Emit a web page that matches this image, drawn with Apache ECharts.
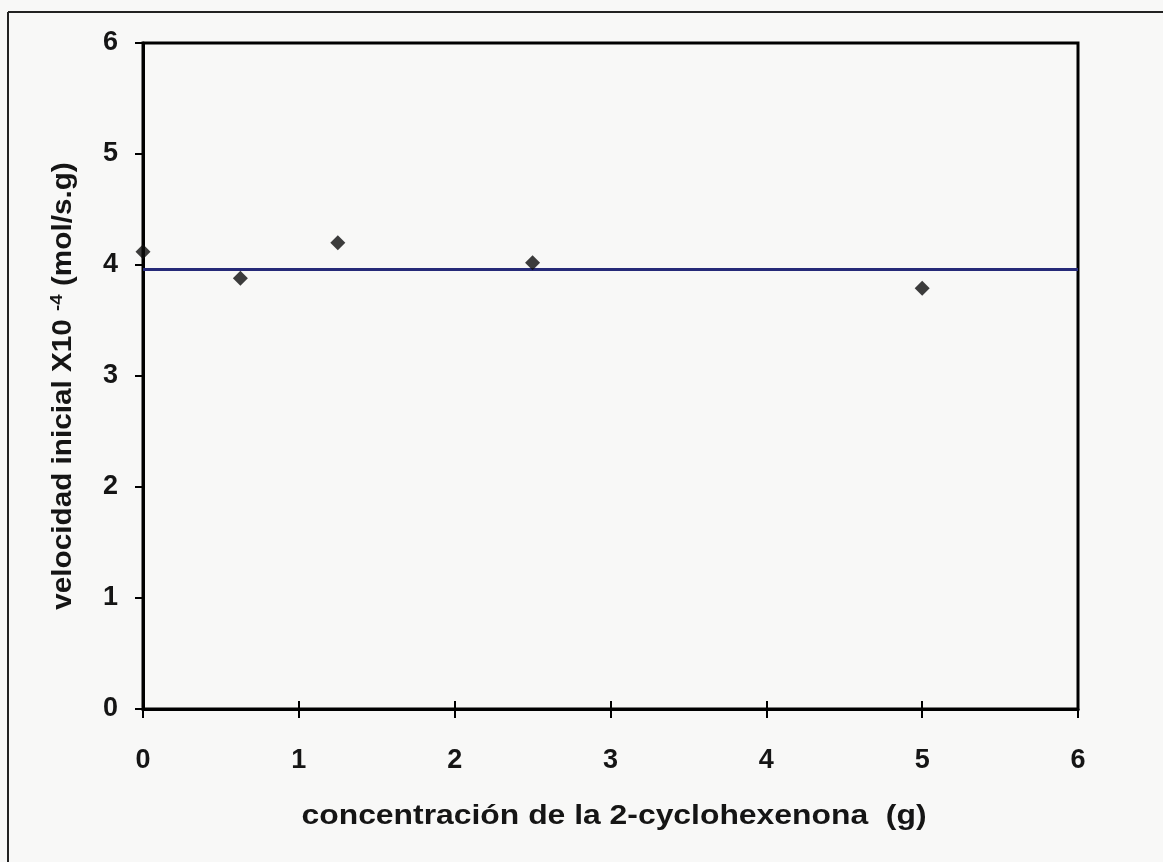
<!DOCTYPE html>
<html>
<head>
<meta charset="utf-8">
<script src="https://cdn.jsdelivr.net/npm/echarts@6/dist/echarts.min.js"></script>
<style>
  html, body { margin: 0; padding: 0; background: #f8f8f7; }
  #chart { width: 1163px; height: 862px; }
</style>
</head>
<body>
<div id="chart"></div>
<script>
// Initial rate vs. amount of 2-cyclohexenone
const concentracion = [0, 0.625, 1.25, 2.5, 5];
const velocidad = [4.12, 3.88, 4.20, 4.02, 3.79];
const promedio = 3.96;            // level of the horizontal reference line
const lineaX = [0, 6];            // x extent of the reference line
const ticks = [0, 1, 2, 3, 4, 5, 6];
const tituloX = 'concentración de la 2-cyclohexenona  (g)';
const tituloY = '{a|velocidad inicial X10 }{s|-4}{a| (mol/s.g)}';

const puntos = concentracion.map((x, i) => [x, velocidad[i]]);
const linea = lineaX.map(x => [x, promedio]);

const font = '"Liberation Sans", Arial, sans-serif';
const ink = '#151515';
const textBase = { fontFamily: font, fontWeight: 'bold', color: ink };
const chart = echarts.init(document.getElementById('chart'), null, { renderer: 'canvas' });

const xCommon = {
  type: 'value', min: ticks[0], max: ticks[ticks.length - 1], interval: 1,
  splitLine: { show: false }
};

chart.setOption({
  backgroundColor: '#f8f8f7',
  animation: false,
  graphic: [
    // page frame
    { type: 'line', shape: { x1: 8, y1: 12, x2: 1163, y2: 12 }, style: { stroke: '#222', lineWidth: 2 } },
    { type: 'line', shape: { x1: 8, y1: 12, x2: 8, y2: 862 }, style: { stroke: '#222', lineWidth: 2 } },
    // axis titles (wide bold lettering)
    {
      type: 'text', x: 614, y: 817, scaleX: 1.18,
      style: {
        text: tituloX, fill: ink, fontFamily: font, fontWeight: 'bold', fontSize: 27,
        align: 'center', verticalAlign: 'middle'
      }
    },
    {
      type: 'text', x: 64, y: 386, rotation: Math.PI / 2, scaleX: 1.10,
      style: {
        text: tituloY, fill: ink, align: 'center', verticalAlign: 'middle',
        rich: {
          a: { fontFamily: font, fontWeight: 'bold', fontSize: 27, fill: ink, lineHeight: 32 },
          s: { fontFamily: font, fontWeight: 'bold', fontSize: 17, fill: ink, lineHeight: 32, padding: [0, 0, 14, 0] }
        }
      }
    }
  ],
  grid: {
    left: 143, top: 43, right: 85, bottom: 153,
    show: true, borderColor: '#000', borderWidth: 3, backgroundColor: 'transparent'
  },
  xAxis: [
    Object.assign({}, xCommon, {
      axisLine: { lineStyle: { color: '#000', width: 3 } },
      axisTick: { show: true, length: 9, lineStyle: { color: '#000', width: 2 } },
      axisLabel: Object.assign({ margin: 38, fontSize: 27 }, textBase)
    }),
    // inner half of the tick marks so they cross the axis line
    Object.assign({}, xCommon, {
      position: 'bottom', offset: 0,
      axisLine: { show: false },
      axisTick: { show: true, inside: true, length: 8, lineStyle: { color: '#000', width: 2 } },
      axisLabel: { show: false }
    })
  ],
  yAxis: {
    type: 'value', min: ticks[0], max: ticks[ticks.length - 1], interval: 1,
    axisLine: { lineStyle: { color: '#000', width: 3 } },
    axisTick: { show: true, length: 8, lineStyle: { color: '#000', width: 2 } },
    axisLabel: Object.assign({ margin: 25, fontSize: 27 }, textBase),
    splitLine: { show: false }
  },
  series: [
    {
      type: 'line', data: linea, symbol: 'none',
      lineStyle: { color: '#262a78', width: 3 }, z: 2
    },
    {
      type: 'scatter', data: puntos, symbol: 'diamond', symbolSize: 15,
      itemStyle: { color: '#0d0d0d' }, z: 3
    }
  ]
});
</script>
</body>
</html>
